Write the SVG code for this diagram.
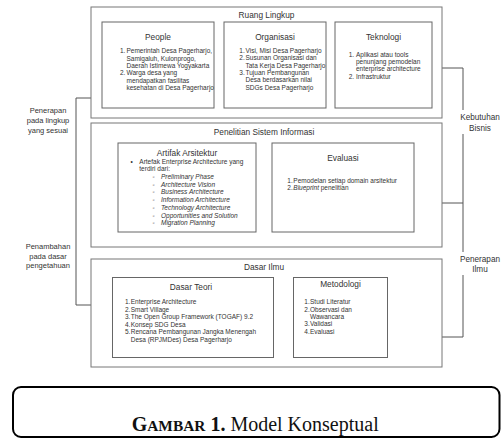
<svg xmlns="http://www.w3.org/2000/svg" width="502" height="439" viewBox="0 0 502 439">
<style>
.box{fill:#fff;stroke:#666;stroke-width:1}
.obox{fill:#fff;stroke:#777;stroke-width:1}
.t{font-family:"Liberation Sans",Arial,sans-serif;fill:#333}
.ti{font-size:8.3px;text-anchor:middle}
.b{font-size:6.5px}
.lab{font-family:"Liberation Sans",Arial,sans-serif;fill:#333;font-size:7.5px;text-anchor:middle}
.labr{font-family:"Liberation Sans",Arial,sans-serif;fill:#333;font-size:8.2px;text-anchor:middle}
.it{font-style:italic}
.con{fill:none;stroke:#555;stroke-width:1}
</style>
<rect width="502" height="439" fill="#fff"/>

<g id="connectors">
<polyline class="con" points="91,98 76,98 76,305 91,305"/>
<polyline class="con" points="442,68 463,68 463,337 442,337"/>
<line class="con" x1="442" y1="203" x2="463" y2="203"/>
</g>

<g id="ruang-lingkup">
<rect class="obox" x="91" y="7" width="351" height="111"/>
<text class="t ti" x="266.5" y="18">Ruang Lingkup</text>
</g>
<g id="people">
<rect class="box" x="102" y="22" width="112" height="86"/>
<text class="t ti" x="158" y="39.7">People</text>
<text class="t b"><tspan x="120" y="53.3">1.</tspan><tspan x="126.5" y="53.3">Pemerintah Desa Pagerharjo,</tspan><tspan x="126.5" y="60.6">Samigaluh, Kulonprogo,</tspan><tspan x="126.5" y="67.9">Daerah Istimewa Yogyakarta</tspan><tspan x="120" y="75.2">2.</tspan><tspan x="126.5" y="75.2">Warga desa yang</tspan><tspan x="126.5" y="82.5">mendapatkan fasilitas</tspan><tspan x="126.5" y="89.8">kesehatan di Desa Pagerharjo</tspan></text>
</g>
<g id="organisasi">
<rect class="box" x="224" y="22" width="102" height="86"/>
<text class="t ti" x="275" y="39.7">Organisasi</text>
<text class="t b"><tspan x="239.3" y="53">1.</tspan><tspan x="245.5" y="53">Visi, Misi Desa Pagerharjo</tspan><tspan x="239.3" y="60.3">2.</tspan><tspan x="245.5" y="60.3">Susunan Organisasi dan</tspan><tspan x="245.5" y="67.6">Tata Kerja Desa Pagerharjo</tspan><tspan x="239.3" y="74.9">3.</tspan><tspan x="245.5" y="74.9">Tujuan Pembangunan</tspan><tspan x="245.5" y="82.2">Desa berdasarkan nilai</tspan><tspan x="245.5" y="89.5">SDGs Desa Pagerharjo</tspan></text>
</g>
<g id="teknologi">
<rect class="box" x="335" y="22" width="97" height="86"/>
<text class="t ti" x="383.5" y="39.7">Teknologi</text>
<text class="t b"><tspan x="348.7" y="56.6">1.</tspan><tspan x="356" y="56.6">Aplikasi atau tools</tspan><tspan x="356" y="63.9">penunjang pemodelan</tspan><tspan x="356" y="71.2">enterprise architecture</tspan><tspan x="348.7" y="78.5">2.</tspan><tspan x="356" y="78.5">Infrastruktur</tspan></text>
</g>

<g id="penelitian-si">
<rect class="obox" x="91" y="123" width="351" height="124"/>
<text class="t ti" x="264" y="134.7">Penelitian Sistem Informasi</text>
</g>
<g id="artifak">
<rect class="box" x="118" y="143" width="138" height="89"/>
<text class="t ti" x="187" y="156.2">Artifak Arsitektur</text>
<text class="t b"><tspan x="130.5" y="164">•</tspan><tspan x="139.3" y="164">Artefak Enterprise Architecture yang</tspan><tspan x="139.3" y="170.6">terdiri dari:</tspan></text>
<text class="t b"><tspan x="152.5" y="179">◦</tspan><tspan x="161" y="179" class="it">Preliminary Phase</tspan><tspan x="152.5" y="186.7">◦</tspan><tspan x="161" y="186.7" class="it">Architecture Vision</tspan><tspan x="152.5" y="194.4">◦</tspan><tspan x="161" y="194.4" class="it">Business Architecture</tspan><tspan x="152.5" y="202.1">◦</tspan><tspan x="161" y="202.1" class="it">Information Architecture</tspan><tspan x="152.5" y="209.8">◦</tspan><tspan x="161" y="209.8" class="it">Technology Architecture</tspan><tspan x="152.5" y="217.5">◦</tspan><tspan x="161" y="217.5" class="it">Opportunities and Solution</tspan><tspan x="152.5" y="225.2">◦</tspan><tspan x="161" y="225.2" class="it">Migration Planning</tspan></text>
</g>
<g id="evaluasi">
<rect class="box" x="272" y="143" width="142" height="89"/>
<text class="t ti" x="343" y="161.2">Evaluasi</text>
<text class="t b"><tspan x="287.3" y="183">1.</tspan><tspan x="293.3" y="183">Pemodelan setiap domain arsitektur</tspan><tspan x="287.3" y="189.8">2.</tspan><tspan x="293.3" y="189.8" class="it">Blueprint</tspan><tspan> penelitian</tspan></text>
</g>

<g id="dasar-ilmu">
<rect class="obox" x="91" y="259" width="351" height="108"/>
<text class="t ti" x="264" y="270.2">Dasar Ilmu</text>
</g>
<g id="dasar-teori">
<rect class="box" x="112.5" y="277.5" width="161" height="80"/>
<text class="t ti" x="191" y="290.2">Dasar Teori</text>
<text class="t b"><tspan x="125" y="304">1.</tspan><tspan x="130.7" y="304">Enterprise Architecture</tspan><tspan x="125" y="311.5">2.</tspan><tspan x="130.7" y="311.5">Smart Village</tspan><tspan x="125" y="319">3.</tspan><tspan x="130.7" y="319">The Open Group Framework (TOGAF) 9.2</tspan><tspan x="125" y="326.6">4.</tspan><tspan x="130.7" y="326.6">Konsep SDG Desa</tspan><tspan x="125" y="334.2">5.</tspan><tspan x="130.7" y="334.2">Rencana Pembangunan Jangka Menengah</tspan><tspan x="130.7" y="341.7">Desa (RPJMDes) Desa Pagerharjo</tspan></text>
</g>
<g id="metodologi">
<rect class="box" x="293.5" y="277.5" width="94" height="80"/>
<text class="t ti" x="340.5" y="286.9">Metodologi</text>
<text class="t b"><tspan x="304.3" y="304.3">1.</tspan><tspan x="310" y="304.3">Studi Literatur</tspan><tspan x="304.3" y="311.5">2.</tspan><tspan x="310" y="311.5">Observasi dan</tspan><tspan x="310" y="318.8">Wawancara</tspan><tspan x="304.3" y="326.2">3.</tspan><tspan x="310" y="326.2">Validasi</tspan><tspan x="304.3" y="333.5">4.</tspan><tspan x="310" y="333.5">Evaluasi</tspan></text>
</g>

<g id="label-penerapan-lingkup">
<text class="lab"><tspan x="48" y="112.6">Penerapan</tspan><tspan x="48" y="122.6">pada lingkup</tspan><tspan x="48" y="132.6">yang sesuai</tspan></text>
</g>
<g id="label-penambahan">
<text class="lab"><tspan x="48" y="249.3">Penambahan</tspan><tspan x="48" y="258.6">pada dasar</tspan><tspan x="48" y="267.9">pengetahuan</tspan></text>
</g>
<g id="label-kebutuhan">
<rect x="458" y="110" width="44" height="24" fill="#fff"/>
<text class="labr"><tspan x="480" y="119.8">Kebutuhan</tspan><tspan x="480" y="130.5">Bisnis</tspan></text>
</g>
<g id="label-penerapan-ilmu">
<rect x="457" y="252" width="45" height="23" fill="#fff"/>
<text class="labr"><tspan x="480" y="261.8">Penerapan</tspan><tspan x="480" y="272">Ilmu</tspan></text>
</g>

<g id="caption">
<rect x="13" y="387" width="486.5" height="50" rx="8" ry="8" fill="#fff" stroke="#000" stroke-width="2"/>
<text x="131.7" y="430.5" font-family="'Liberation Serif','Times New Roman',serif" font-size="20" fill="#111"><tspan font-weight="bold">G</tspan><tspan font-weight="bold" font-size="15.4">AMBAR</tspan><tspan font-weight="bold"> 1.</tspan><tspan> Model Konseptual</tspan></text>
</g>
</svg>
